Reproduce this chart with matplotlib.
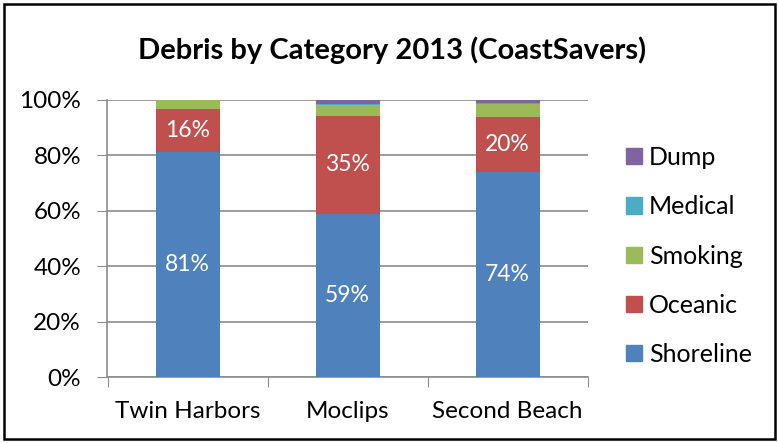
import matplotlib
matplotlib.use("Agg")
import matplotlib.pyplot as plt
from matplotlib.patches import Rectangle, Patch
import numpy as np

plt.rcParams['font.family'] = ['Lato', 'DejaVu Sans']

sites = ["Twin Harbors", "Moclips", "Second Beach"]
series = ["Shoreline", "Oceanic", "Smoking", "Medical", "Dump"]
shoreline = [81.2, 59.0, 74.0]
oceanic = [15.6, 35.4, 20.0]
smoking = [3.2, 3.7, 4.7]
medical = [0.0, 0.4, 0.3]
dump = [0.0, 1.5, 1.0]
colors = ["#4F81BD", "#C0504D", "#9BBB59", "#4BACC6", "#8064A2"]
yticks = [0, 20, 40, 60, 80, 100]
yticklabels = ["0%", "20%", "40%", "60%", "80%", "100%"]

W, H = 779, 443
fig = plt.figure(figsize=(W/100, H/100), dpi=100)
fig.patches.append(Rectangle((4/W, 4/H), 771/W, 435/H, transform=fig.transFigure,
                             fill=False, edgecolor="black", linewidth=1.8))

ax = fig.add_axes([107.5/W, 1-377/H, 480/W, 277/H])
x = np.arange(len(sites))
data = [shoreline, oceanic, smoking, medical, dump]
bottom = np.zeros(len(sites))
for vals, c, name in zip(data, colors, series):
    v = np.array(vals)
    ax.bar(x, v, 0.4, bottom=bottom, color=c, label=name, zorder=3)
    if name in ("Shoreline", "Oceanic"):
        for xi, b, vi in zip(x, bottom, v):
            ax.text(xi, b + vi/2, f"{round(vi):d}%", ha="center", va="center",
                    color="white", fontsize=16.5, zorder=4)
    bottom += v

ax.set_xlim(-0.5, 2.5)
ax.set_ylim(0, 100)
ax.set_yticks(yticks)
ax.set_yticklabels(yticklabels, fontsize=17.5)
ax.yaxis.grid(True, color="#8C8C8C", linewidth=1.2, zorder=0)
ax.set_axisbelow(True)
ax.set_xticks([-0.5, 0.5, 1.5, 2.5])
ax.set_xticklabels([])
ax.set_xticks(x, minor=True)
ax.set_xticklabels(sites, minor=True, fontsize=17.5)
ax.tick_params(axis="x", which="minor", length=0, pad=17)
ax.tick_params(axis="x", which="major", length=7, color="#8C8C8C", direction="out")
ax.tick_params(axis="y", length=7, color="#8C8C8C", direction="out", pad=12)
for s in ["top", "right"]:
    ax.spines[s].set_visible(False)
for s in ["left", "bottom"]:
    ax.spines[s].set_color("#8C8C8C")
    ax.spines[s].set_linewidth(1.2)

fig.text(392/W, 1-50/H, "Debris by Category 2013 (CoastSavers)", ha="center", va="center",
         fontsize=21, fontweight="bold")

handles = [Patch(color=c, label=n) for c, n in zip(colors, series)][::-1]
fig.legend(handles=handles, loc="center left", bbox_to_anchor=(626/W, 1-256/H),
           frameon=False, fontsize=18, handlelength=0.62, handleheight=0.62,
           handletextpad=0.3, labelspacing=1.05, borderpad=0, borderaxespad=0)

fig.savefig("out.png", dpi=100)
